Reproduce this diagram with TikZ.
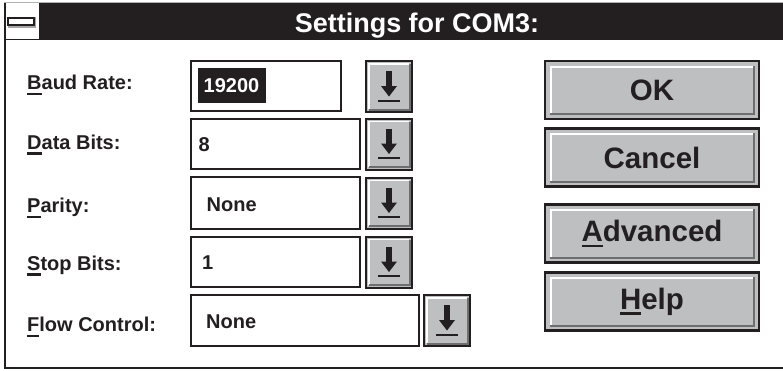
\documentclass[tikz,border=0pt]{standalone}
\usepackage{fontspec}
\setmainfont{Liberation Sans}
\definecolor{winink}{HTML}{231F20}
\definecolor{wingray}{HTML}{BEBFC1}
\definecolor{winshade}{HTML}{6D6E70}

% letter with an access-key underline
\newcommand{\hotkey}[1]{\setbox0\hbox{#1}\rlap{\rule[-5.5pt]{\wd0}{2.2pt}}#1}

\begin{document}
\begin{tikzpicture}[x=1pt, y=-1pt,
    lbl/.style={anchor=base west, inner sep=0, text=winink, font=\fontsize{20}{20}\selectfont\bfseries},
    valbox/.style={draw=winink, line width=2, fill=white, inner sep=0},
    valtext/.style={anchor=base west, inner sep=0, text=winink, font=\fontsize{20}{20}\selectfont\bfseries},
    dropbtn/.style={draw=winink, line width=2, fill=wingray, inner sep=0, minimum width=46, minimum height=51},
    pushbtn/.style={draw=winink, line width=2.5, fill=wingray, inner sep=0, minimum width=214, minimum height=58,
                    text=winink, font=\fontsize{29.5}{30}\selectfont\bfseries}]
    \useasboundingbox (0,0) rectangle (783,370);
    \fill[white] (0,0) rectangle (783,370);

    % window frame and title bar
    \draw[gray!60, line width=1] (4,2.5) -- (783,2.5);
    \fill[winink] (4,3.2) rectangle (783,40);
    \fill[white] (5.5,3.2) rectangle (38.5,39);
    \draw[winink, line width=1.7] (4.8,3) -- (4.8,368) -- (783,368);
    \draw[winink, line width=2.2] (4,368.2) -- (783,368.2);
    \draw[gray!70, line width=2.4, fill=white] (9,18.5) rectangle (35,26.5);
    \draw[winink, line width=2, fill=white] (8,17.5) rectangle (34,25);
    \node[anchor=base, inner sep=0, text=white, font=\fontsize{27}{27}\selectfont\bfseries] (title) at (417,32) {Settings for COM3:};

    % labels
    \node[lbl] (baudlbl) at (27,89.3) {\hotkey{B}aud Rate:};
    \node[lbl] (datalbl) at (27,149) {\hotkey{D}ata Bits:};
    \node[lbl] (paritylbl) at (27,212.7) {\hotkey{P}arity:};
    \node[lbl] (stoplbl) at (27,270) {\hotkey{S}top Bits:};
    \node[lbl] (flowlbl) at (27,331.7) {\hotkey{F}low Control:};

    % value boxes
    \node[valbox, minimum width=150, minimum height=50] (baudbox) at (266,86) {};
    \node[valbox, minimum width=169, minimum height=50] (databox) at (275.5,144) {};
    \node[valbox, minimum width=169, minimum height=52] (paritybox) at (275.5,203) {};
    \node[valbox, minimum width=169, minimum height=50] (stopbox) at (275.5,262) {};
    \node[valbox, minimum width=228, minimum height=51] (flowbox) at (305,320.5) {};

    \node[fill=winink, inner sep=0, minimum width=68, minimum height=35] (baudsel) at (232,85.5) {};
    \node[valtext, text=white] (baudval) at (203.5,92) {19200};
    \node[valtext] (dataval) at (198.5,151.7) {8};
    \node[valtext] (parityval) at (206.5,211.7) {None};
    \node[valtext] (stopval) at (202,269) {1};
    \node[valtext] (flowval) at (206,328.3) {None};

    % drop-down buttons
    \node[dropbtn] (baudbtn) at (389,86.5) {};
    \node[dropbtn] (databtn) at (389,144) {};
    \node[dropbtn] (paritybtn) at (389,203) {};
    \node[dropbtn] (stopbtn) at (389,262) {};
    \node[dropbtn] (flowbtn) at (447,320.5) {};
    \foreach \b in {baudbtn,databtn,paritybtn,stopbtn,flowbtn} {
        \draw[white, line width=1.8] ([shift={(4,-4)}]\b.south west) |- ([shift={(-4,4)}]\b.north east);
        \draw[winshade, line width=2] ([shift={(4,-3.5)}]\b.south west) -| ([shift={(-3.5,4)}]\b.north east);
        \fill[winink] ([shift={(-3,-15.5)}]\b.center) rectangle ([shift={(3,0)}]\b.center);
        \fill[winink] ([shift={(-8,-0.5)}]\b.center) -- ([shift={(8,-0.5)}]\b.center)
            -- ([shift={(0,10)}]\b.center) -- cycle;
        \fill[winink] ([shift={(-11,13)}]\b.center) rectangle ([shift={(11,15.2)}]\b.center);
    }

    % push buttons
    \node[pushbtn] (okbtn) at (652,90) {OK};
    \node[pushbtn] (cancelbtn) at (652,157.5) {Cancel};
    \node[pushbtn] (advbtn) at (652,233.5) {\hotkey{A}dvanced};
    \node[pushbtn] (helpbtn) at (652,301.5) {\hotkey{H}elp};
    \foreach \b in {okbtn,cancelbtn,advbtn,helpbtn} {
        \draw[white, line width=2] ([shift={(7,-7)}]\b.south west) |- ([shift={(-7,7)}]\b.north east);
        \draw[winshade, line width=2.2] ([shift={(6,-6)}]\b.south west) -| ([shift={(-6,6)}]\b.north east);
    }
\end{tikzpicture}
\end{document}
